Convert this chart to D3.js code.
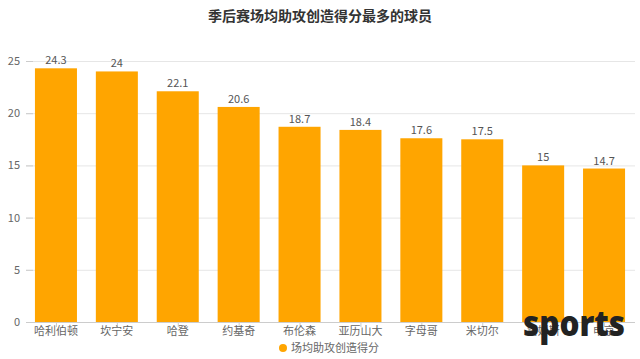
<!DOCTYPE html>
<html><head><meta charset="utf-8">
<script src="https://cdn.jsdelivr.net/npm/d3@7"></script>
<style>
html,body{margin:0;padding:0;background:#fff;}
text{font-family:"Noto Sans CJK SC","Noto Sans",sans-serif;}
</style></head>
<body><svg id="c" width="640" height="359"></svg>
<script>
const categories = ["哈利伯顿","坎宁安","哈登","约基奇","布伦森","亚历山大","字母哥","米切尔","詹姆斯","申京"];
const values = [24.3,24,22.1,20.6,18.7,18.4,17.6,17.5,15,14.7];
const yTicks = [0,5,10,15,20,25];
const seriesName = "场均助攻创造得分";
const title = "季后赛场均助攻创造得分最多的球员";

const svg = d3.select("#c");
const color = "#FFA500";
const x = d3.scaleBand().domain(categories).range([25.5, 634.5]).paddingInner(0.31).paddingOuter(0.155);
const y = d3.scaleLinear().domain([0,25]).range([322, 61]);

svg.append("text").attr("x",320).attr("y",21).attr("text-anchor","middle")
  .attr("font-size",14).attr("font-weight","bold").attr("fill","#333").text(title);

// grid
svg.append("g").selectAll("line").data(yTicks.filter(d=>d>0)).join("line")
  .attr("x1",26).attr("x2",635).attr("y1",d=>y(d)+0.5).attr("y2",d=>y(d)+0.5)
  .attr("stroke","#e6e6e6");
// y tick marks and labels
const ya = svg.append("g");
ya.selectAll("line").data(yTicks).join("line")
  .attr("x1",26).attr("x2",33).attr("y1",d=>y(d)+0.5).attr("y2",d=>y(d)+0.5).attr("stroke","#ccc");
ya.selectAll("text").data(yTicks).join("text")
  .attr("x",20).attr("y",d=>y(d)+4).attr("text-anchor","end")
  .attr("font-size",11).attr("fill","#666").text(d=>d);

// bars
svg.append("g").selectAll("rect").data(values).join("rect")
  .attr("x",(d,i)=>x(categories[i])).attr("width",x.bandwidth())
  .attr("y",d=>y(d)).attr("height",d=>y(0)-y(d)).attr("fill",color);

// value labels
svg.append("g").selectAll("text").data(values).join("text")
  .attr("x",(d,i)=>x(categories[i])+x.bandwidth()/2).attr("y",d=>y(d)-4)
  .attr("text-anchor","middle").attr("font-size",11).attr("fill","#555").text(d=>d);

// x axis
svg.append("line").attr("x1",26).attr("x2",635).attr("y1",322.5).attr("y2",322.5).attr("stroke","#ccc");
svg.append("g").selectAll("line").data(categories).join("line")
  .attr("x1",d=>x(d)+x.bandwidth()/2+0.5).attr("x2",d=>x(d)+x.bandwidth()/2+0.5)
  .attr("y1",322).attr("y2",327).attr("stroke","#ccc");
svg.append("g").selectAll("text").data(categories).join("text")
  .attr("x",d=>x(d)+x.bandwidth()/2).attr("y",335).attr("text-anchor","middle")
  .attr("font-size",11).attr("fill","#666").text(d=>d);

// legend
svg.append("circle").attr("cx",283).attr("cy",348).attr("r",4).attr("fill",color);
svg.append("text").attr("x",291).attr("y",352).attr("font-size",11).attr("fill","#666").text(seriesName);

// watermark
svg.append("text").attr("x",523).attr("y",336).attr("font-size",36).attr("font-weight",800)
  .attr("fill","#222").attr("textLength",102).attr("lengthAdjust","spacingAndGlyphs")
  .style("font-family","'Open Sans','Liberation Sans',sans-serif").text("sports");
</script></body></html>
